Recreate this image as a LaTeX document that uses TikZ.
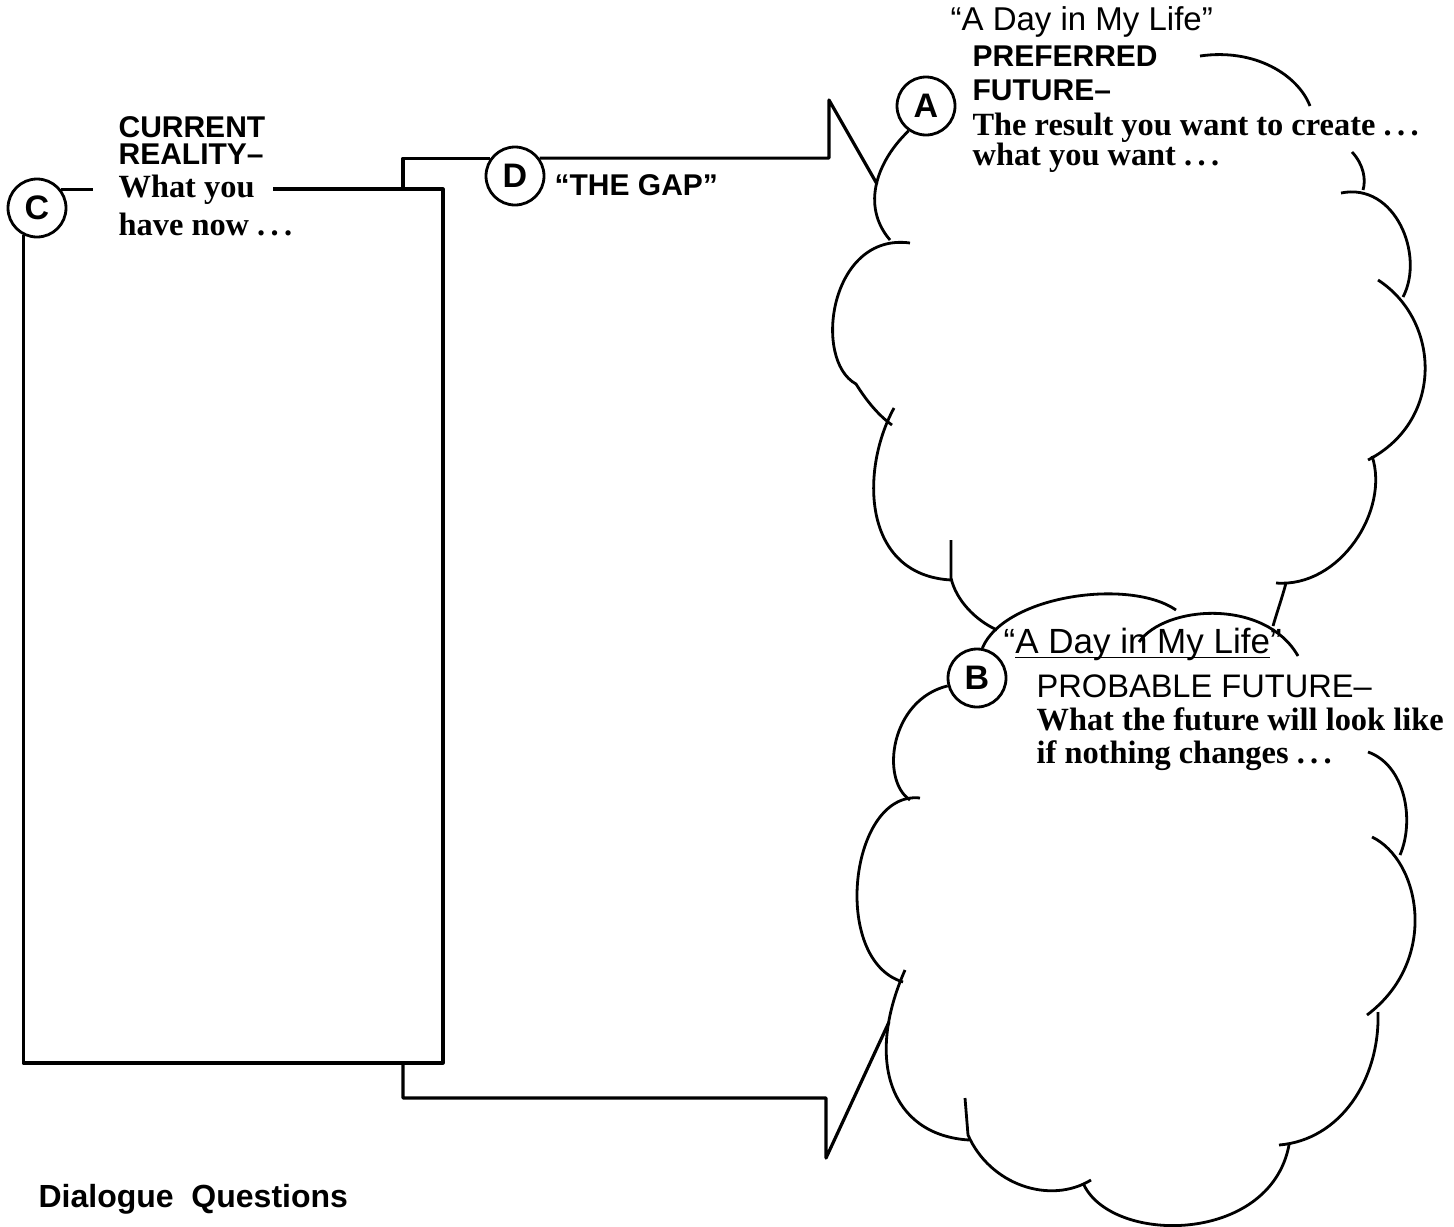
\documentclass[tikz,border=0pt]{standalone}
\usepackage{fontspec}
\setmainfont{Liberation Serif}
\setsansfont{Liberation Sans}
\newcommand{\dayline}[1]{\setbox0\hbox{#1}\rlap{\rule[-2.6pt]{\wd0}{0.6pt}}\box0}

\begin{document}
\begin{tikzpicture}[x=0.5pt,y=-0.5pt,line width=1.6pt,line join=round,
  letter/.style={circle,draw,line width=1.4pt,minimum size=29pt,inner sep=0pt,font=\sffamily\bfseries\fontsize{17}{17}\selectfont},
  headtxt/.style={anchor=base west,inner sep=0pt,font=\sffamily\bfseries\fontsize{15}{15}\selectfont},
  thintxt/.style={headtxt,font=\sffamily\fontsize{16.3}{16.3}\selectfont},
  bodytxt/.style={anchor=base west,inner sep=0pt,font=\bfseries\fontsize{16.2}{16.2}\selectfont},
  puff/.style={line width=1.4pt}]
\useasboundingbox (0,0) rectangle (1454,1226);

\node[letter] (circC) at (37,208) {C};
\node[letter] (circD) at (515,176) {D};
\node[letter] (circA) at (926,106) {A};
\node[letter] (circB) at (977,678) {B};

\node[headtxt] (current) at (117,137) {CURRENT};
\node[headtxt] (reality) at (117,164) {REALITY–};
\node[bodytxt] (whatyou) at (117,197) {What you};
\node[bodytxt] (havenow) at (117,235) {have now .\,.\,.};
\node[headtxt] (gap) at (553,195) {“THE GAP”};

\node[thintxt,font=\sffamily\fontsize{16.5}{16.5}\selectfont] (dayA) at (949,31) {“A Day in My Life”};
\node[headtxt] (preferred) at (971,66) {PREFERRED};
\node[headtxt] (futureA) at (971,100) {FUTURE–};
\node[bodytxt] (resultA) at (971,135) {The result you want to create .\,.\,.};
\node[bodytxt] (wantA) at (971,165) {what you want .\,.\,.};

\node[thintxt,font=\sffamily\fontsize{17.5}{17.5}\selectfont] (dayB) at (1002,653) {“\dayline{A Day in My Life}”};
\node[thintxt] (probable) at (1035,697) {PROBABLE FUTURE–};
\node[bodytxt] (futureB) at (1035,730) {What the future will look like};
\node[bodytxt] (nothingB) at (1035,763) {if nothing changes .\,.\,.};

\node[headtxt,font=\sffamily\bfseries\fontsize{16}{16}\selectfont] (dialogue) at (37,1207) {Dialogue\ \ Questions};

\coordinate (tipA) at (877,184);
\coordinate (tipB) at (889,1022);

\draw (circC.38) -- ++(32,0);
\draw (273,189) -| (443,1063) -| (circC.243);
\draw (403,189) |- (circD.144);
\draw (circD.36) -| (829,100) -- (tipA);
\draw (403,1063) -- (403,1098) -| (826,1158) -- (tipB);

\draw[puff] (circA.235) .. controls (878,160) and (860,205) .. (890,240);
\draw[puff] (910,243) .. controls (830,232) and (812,360) .. (856,384) .. controls (866,400) and (878,415) .. (892,425);
\draw[puff] (894,408) .. controls (860,470) and (862,575) .. (951,580);
\draw[puff] (951,540) -- (951,578) .. controls (956,600) and (975,620) .. (997,630);
\draw[puff] (1200,56) .. controls (1255,48) and (1298,75) .. (1310,106);
\draw[puff] (1352,152) .. controls (1364,165) and (1366,180) .. (1363,190);
\draw[puff] (1341,193) .. controls (1395,182) and (1425,255) .. (1403,297);
\draw[puff] (1378,280) .. controls (1440,320) and (1445,420) .. (1368,460);
\draw[puff] (1372,456) .. controls (1390,510) and (1340,588) .. (1276,583);
\draw[puff] (1286,583) .. controls (1282,598) and (1277,612) .. (1273,626);

\draw[puff] (circB.80) .. controls (1005,595) and (1130,578) .. (1176,610);
\draw[puff] (1139,642) .. controls (1165,605) and (1265,598) .. (1298,656);
\draw[puff] (circB.195) .. controls (890,700) and (880,780) .. (910,800);
\draw[puff] (920,798) .. controls (850,790) and (830,960) .. (903,982);
\draw[puff] (905,970) .. controls (865,1060) and (890,1135) .. (969,1140);
\draw[puff] (965,1098) -- (968,1135) .. controls (990,1185) and (1050,1205) .. (1091,1180);
\draw[puff] (1083,1183) .. controls (1110,1245) and (1270,1245) .. (1289,1145);
\draw[puff] (1378,1012) .. controls (1380,1080) and (1340,1140) .. (1279,1145);
\draw[puff] (1372,837) .. controls (1420,860) and (1440,960) .. (1367,1015);
\draw[puff] (1368,752) .. controls (1405,765) and (1415,820) .. (1400,855);
\end{tikzpicture}
\end{document}
